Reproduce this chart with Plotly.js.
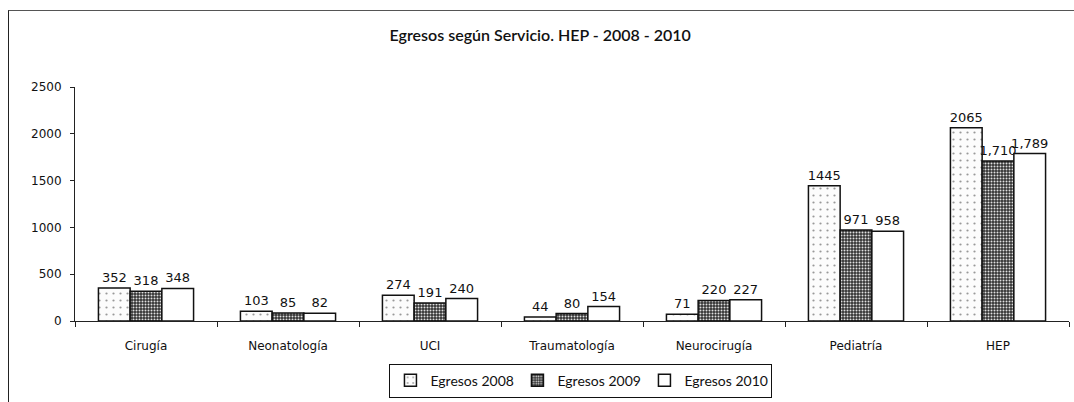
<!DOCTYPE html>
<html>
<head>
<meta charset="utf-8">
<script src="https://cdn.plot.ly/plotly-3.0.1.min.js"></script>
<style>
  html, body { margin: 0; padding: 0; background: #fff; }
  #wrap { position: relative; width: 1074px; height: 402px; }
  #chart { width: 1074px; height: 402px; }
  #frame { position: absolute; left: 8px; top: 10px; width: 1080px; height: 400px;
           border-left: 1.5px solid #222; border-top: 1.5px solid #555; pointer-events: none; }
</style>
</head>
<body>
<div id="wrap">
  <div id="chart"></div>
  <div id="frame"></div>
</div>
<script>
const categories = ["Cirugía", "Neonatología", "UCI", "Traumatología", "Neurocirugía", "Pediatría", "HEP"];
const egresos2008 = [352, 103, 274, 44, 71, 1445, 2065];
const egresos2009 = [318, 85, 191, 80, 220, 971, 1710];
const egresos2010 = [348, 82, 240, 154, 227, 958, 1789];
const labels2008 = ["352", "103", "274", "44", "71", "1445", "2065"];
const labels2009 = ["318", "85", "191", "80", "220", "971", "1,710"];
const labels2010 = ["348", "82", "240", "154", "227", "958", "1,789"];
const seriesNames = ["Egresos 2008", "Egresos 2009", "Egresos 2010"];
const yTicks = [0, 500, 1000, 1500, 2000, 2500];

const labelFont = {family: "DejaVu Sans", size: 13, color: "#111"};
const outline = {color: "#111", width: 1.5};

const traces = [
  {
    type: "bar", name: seriesNames[0], x: categories, y: egresos2008,
    text: labels2008, textposition: "outside", textfont: labelFont, cliponaxis: false, constraintext: "none",
    marker: {color: "#ffffff", line: outline,
             pattern: {shape: ".", fgcolor: "#999", bgcolor: "#fcfcfc", size: 7, solidity: 0.08}}
  },
  {
    type: "bar", name: seriesNames[1], x: categories, y: egresos2009,
    text: labels2009, textposition: "outside", textfont: labelFont, cliponaxis: false, constraintext: "none",
    marker: {color: "#555", line: outline,
             pattern: {shape: ".", fgcolor: "#e0e0e0", bgcolor: "#333", size: 3, solidity: 0.35}}
  },
  {
    type: "bar", name: seriesNames[2], x: categories, y: egresos2010,
    text: labels2010, textposition: "outside", textfont: labelFont, cliponaxis: false, constraintext: "none",
    marker: {color: "#ffffff", line: outline}
  }
];

const layout = {
  width: 1074, height: 402,
  margin: {l: 75, r: 5, t: 87, b: 79},
  paper_bgcolor: "#fff", plot_bgcolor: "#fff",
  title: {text: "Egresos según Servicio. HEP - 2008 - 2010",
          font: {family: "Lato", size: 16, color: "#111", weight: 600},
          x: 0.503, xanchor: "center", y: 0.913, yanchor: "middle"},
  barmode: "group", bargap: 0.33, bargroupgap: 0,
  showlegend: true,
  legend: {orientation: "h", x: 0.509, xanchor: "center", y: -0.182, yanchor: "top",
           bordercolor: "#111", borderwidth: 1, bgcolor: "#fff",
           font: {family: "Lato", size: 14, color: "#111"},
           itemwidth: 30, tracegroupgap: 0, entrywidth: 82, entrywidthmode: "pixels"},
  xaxis: {type: "category", showline: true, linecolor: "#222", linewidth: 1,
          ticks: "outside", tickson: "boundaries", ticklen: 5, tickcolor: "#222",
          showgrid: false, zeroline: false, ticklabelstandoff: 14,
          tickfont: {family: "DejaVu Sans", size: 12, color: "#111"}},
  yaxis: {range: [0, 2500], tickvals: yTicks, ticktext: yTicks.map(String),
          showline: true, linecolor: "#222", linewidth: 1,
          ticks: "outside", ticklen: 4, tickcolor: "#222",
          showgrid: false, zeroline: false, ticklabelstandoff: 6,
          tickfont: {family: "DejaVu Sans", size: 12, color: "#111"}}
};

Plotly.newPlot("chart", traces, layout, {displayModeBar: false, staticPlot: true});
</script>
</body>
</html>
